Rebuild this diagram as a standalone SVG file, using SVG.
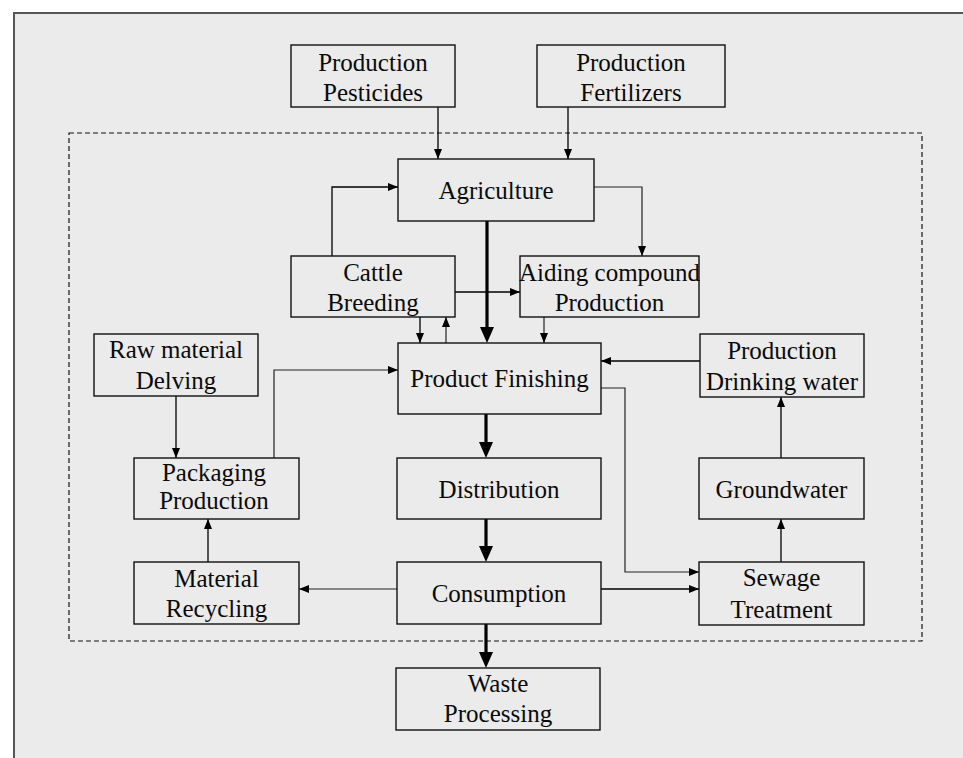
<svg xmlns="http://www.w3.org/2000/svg" width="963" height="758" viewBox="0 0 963 758">
<style>
.box{fill:#ebebeb;stroke:#111;stroke-width:1.4}
.t{font-family:"Liberation Serif","Times New Roman",serif;font-size:25px;fill:#0a0a0a;text-anchor:middle}
.ln{fill:none;stroke:#000;stroke-width:1.3}
.lg{fill:none;stroke:#222;stroke-width:1.2}
.tk{fill:none;stroke:#000;stroke-width:3.2}
</style>
<defs>
<marker id="a" viewBox="0 0 10 8" markerWidth="10" markerHeight="8" refX="10" refY="4" orient="auto" markerUnits="userSpaceOnUse"><path d="M0,0 L10,4 L0,8 Z" fill="#000"/></marker>
<marker id="A" viewBox="0 0 16 14" markerWidth="16" markerHeight="14" refX="8" refY="7" orient="auto" markerUnits="userSpaceOnUse"><path d="M0,0 L16,7 L0,14 Z" fill="#000"/></marker>
</defs>
<rect x="0" y="0" width="963" height="758" fill="#fff"/>
<rect x="14" y="13" width="980" height="780" fill="#ebebeb" stroke="#555" stroke-width="2"/>
<rect x="69" y="133" width="853" height="508" fill="none" stroke="#111" stroke-width="1.2" stroke-dasharray="5 3"/>

<g id="connectors">
<path class="ln" d="M438,107 V159" marker-end="url(#a)"/>
<path class="ln" d="M568,107 V159" marker-end="url(#a)"/>
<path class="ln" d="M332,256 V187 H398" marker-end="url(#a)"/>
<path class="lg" d="M594,187 H642 V256" marker-end="url(#a)"/>
<path class="ln" d="M455,292 H520" marker-end="url(#a)"/>
<path class="ln" d="M420,317 V343" marker-end="url(#a)"/>
<path class="lg" d="M446,343 V317" marker-end="url(#a)"/>
<path class="lg" d="M544,317 V343" marker-end="url(#a)"/>
<path class="ln" d="M700,361 H601" marker-end="url(#a)"/>
<path class="ln" d="M176,396 V458" marker-end="url(#a)"/>
<path class="lg" d="M274,458 V370 H398" marker-end="url(#a)"/>
<path class="lg" d="M601,388 H625 V572 H699" marker-end="url(#a)"/>
<path class="ln" d="M601,589 H699" marker-end="url(#a)"/>
<path class="lg" d="M397,589 H299" marker-end="url(#a)"/>
<path class="ln" d="M208,562 V519" marker-end="url(#a)"/>
<path class="ln" d="M781,562 V519" marker-end="url(#a)"/>
<path class="ln" d="M781,458 V397" marker-end="url(#a)"/>
<path class="tk" d="M487,221 V335" marker-end="url(#A)"/>
<path class="tk" d="M486,414 V450" marker-end="url(#A)"/>
<path class="tk" d="M486,519 V554" marker-end="url(#A)"/>
<path class="tk" d="M486,624 V660" marker-end="url(#A)"/>
</g>

<g id="pesticides"><rect class="box" x="291" y="45" width="164" height="62"/><text class="t" x="373" y="71">Production</text><text class="t" x="373" y="101">Pesticides</text></g>
<g id="fertilizers"><rect class="box" x="537" y="45" width="188" height="62"/><text class="t" x="631" y="71">Production</text><text class="t" x="631" y="101">Fertilizers</text></g>
<g id="agriculture"><rect class="box" x="398" y="159" width="196" height="62"/><text class="t" x="496" y="199">Agriculture</text></g>
<g id="cattle"><rect class="box" x="291" y="256" width="164" height="61"/><text class="t" x="373" y="281">Cattle</text><text class="t" x="373" y="311">Breeding</text></g>
<g id="aiding"><rect class="box" x="520" y="256" width="179" height="61"/><text class="t" x="609.5" y="281">Aiding compound</text><text class="t" x="609.5" y="311">Production</text></g>
<g id="raw"><rect class="box" x="94" y="334" width="164" height="62"/><text class="t" x="176" y="358">Raw material</text><text class="t" x="176" y="389">Delving</text></g>
<g id="finishing"><rect class="box" x="398" y="343" width="203" height="71"/><text class="t" x="499.5" y="387">Product Finishing</text></g>
<g id="drinking"><rect class="box" x="700" y="334" width="164" height="63"/><text class="t" x="782" y="359">Production</text><text class="t" x="782" y="390">Drinking water</text></g>
<g id="packaging"><rect class="box" x="134" y="458" width="165" height="61"/><text class="t" x="214" y="481">Packaging</text><text class="t" x="214" y="509">Production</text></g>
<g id="distribution"><rect class="box" x="397" y="458" width="204" height="61"/><text class="t" x="499" y="498">Distribution</text></g>
<g id="groundwater"><rect class="box" x="699" y="458" width="165" height="61"/><text class="t" x="781.5" y="498">Groundwater</text></g>
<g id="recycling"><rect class="box" x="134" y="562" width="165" height="62"/><text class="t" x="216.5" y="587">Material</text><text class="t" x="216.5" y="617">Recycling</text></g>
<g id="consumption"><rect class="box" x="397" y="562" width="204" height="62"/><text class="t" x="499" y="602">Consumption</text></g>
<g id="sewage"><rect class="box" x="699" y="562" width="165" height="63"/><text class="t" x="781.5" y="586">Sewage</text><text class="t" x="781.5" y="618">Treatment</text></g>
<g id="waste"><rect class="box" x="396" y="668" width="204" height="62"/><text class="t" x="498" y="692">Waste</text><text class="t" x="498" y="722">Processing</text></g>
</svg>
